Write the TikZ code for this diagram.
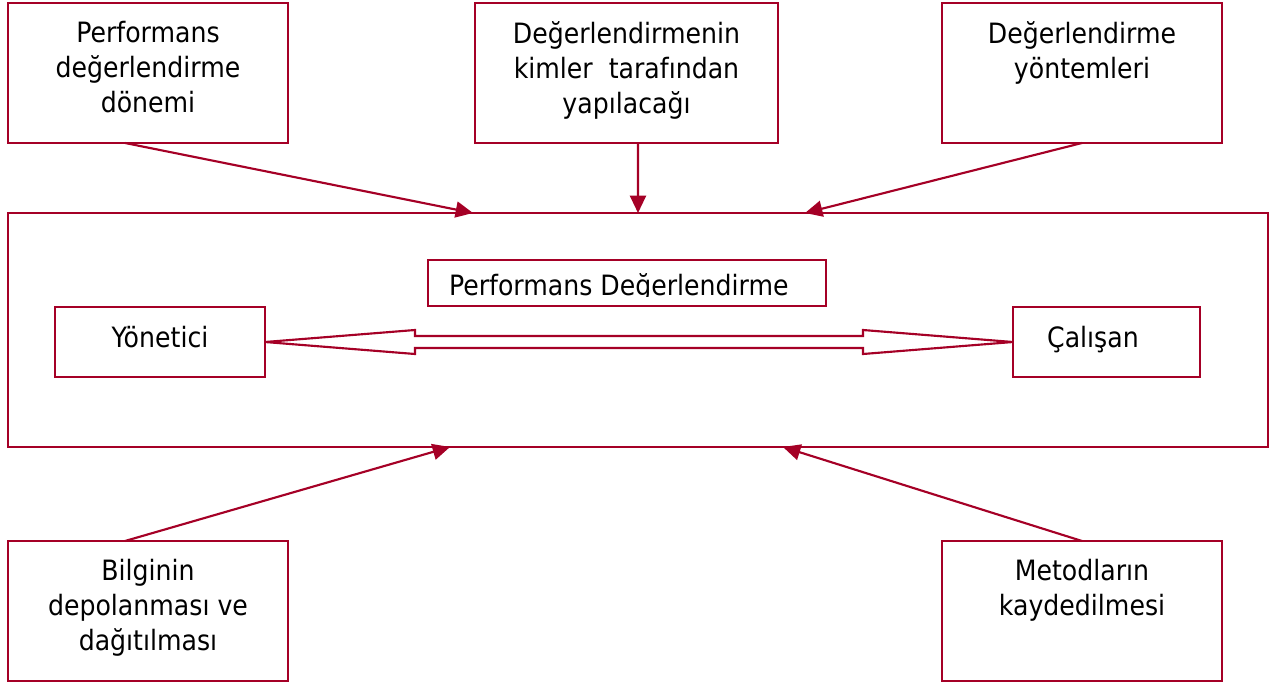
\documentclass[tikz,border=0pt]{standalone}
\usepackage{fontspec}
\setmainfont{DejaVu Sans}[FakeStretch=0.9]
\usetikzlibrary{arrows.meta, calc, positioning}
\definecolor{kirmizi}{RGB}{165,0,38}

\begin{document}
\begin{tikzpicture}[x=0.75pt, y=-0.75pt,
            every node/.style={font=\fontsize{21}{26.25}\selectfont, outer sep=0pt},
            kutu/.style={draw=kirmizi, line width=1.6pt, minimum width=210pt, minimum height=105pt},
            yazi/.style={align=center, inner sep=0pt},
            ok/.style={draw=kirmizi, line width=1.6pt, -{Triangle[length=13pt, width=12pt]}}]
        \useasboundingbox (0,0) rectangle (1276,684);
        % ust kutular
        \node[kutu] (donem) at (148,73) {};
        \node[kutu, minimum width=227.25pt] (kimler) at (626.5,73) {};
        \node[kutu] (yontem) at (1082,73) {};
        \node[yazi, below=14pt of donem.north] (donemyazi) {Performans\\değerlendirme\\dönemi};
        \node[yazi, below=14pt of kimler.north] (kimleryazi) {Değerlendirmenin\\kimler\ \ tarafından\\yapılacağı};
        \node[yazi, below=14pt of yontem.north] (yontemyazi) {Değerlendirme\\yöntemleri};
        % orta kutu
        \node[kutu, minimum width=945pt, minimum height=175.5pt] (ana) at (638,330) {};
        \node[kutu, minimum width=298.5pt, minimum height=34.5pt] (baslik) at (627,283) {};
        \begin{scope}
            \clip (baslik.north west) rectangle ([yshift=7.5pt]baslik.south east);
            \node[inner sep=0pt, anchor=base west] (basyazi) at ([xshift=15.75pt, yshift=8pt]baslik.south west) {Performans Değerlendirme};
        \end{scope}
        \node[kutu, minimum width=157.5pt, minimum height=52.5pt, text height=14pt, text depth=6.5pt] (yon) at (160,342) {Yönetici};
        \node[kutu, minimum width=140.25pt, minimum height=52.5pt, text height=14pt, text depth=6.5pt, text width=125pt, align=left] (cal) at (1106.5,342) {\hspace*{18pt}Çalışan};
        \draw[draw=kirmizi, line width=1.6pt, fill=white] (yon.east) -- ++(150,-12) -- ++(0,6)
            -- ($(cal.west)+(-150,-6)$) -- ++(0,-6) -- (cal.west) -- ++(-150,12) -- ++(0,-6)
            -- ($(yon.east)+(150,6)$) -- ++(0,6) -- cycle;
        % alt kutular
        \node[kutu] (bilgi) at (148,611) {};
        \node[kutu] (metod) at (1082,611) {};
        \node[yazi, below=14pt of bilgi.north] (bilgiyazi) {Bilginin\\depolanması ve\\dağıtılması};
        \node[yazi, below=14pt of metod.north] (metodyazi) {Metodların\\kaydedilmesi};
        % oklar
        \draw[ok] ([xshift=-17.25pt]donem.south) -- ([xshift=-123.75pt]ana.north);
        \draw[ok] ([xshift=8.6pt]kimler.south) -- (ana.north);
        \draw[ok] (yontem.south) -- ([xshift=125.25pt]ana.north);
        \draw[ok] ([xshift=-17.25pt]bilgi.north) -- ([xshift=-141pt]ana.south);
        \draw[ok] (metod.north) -- ([xshift=108.75pt]ana.south);
    \end{tikzpicture}
\end{document}
